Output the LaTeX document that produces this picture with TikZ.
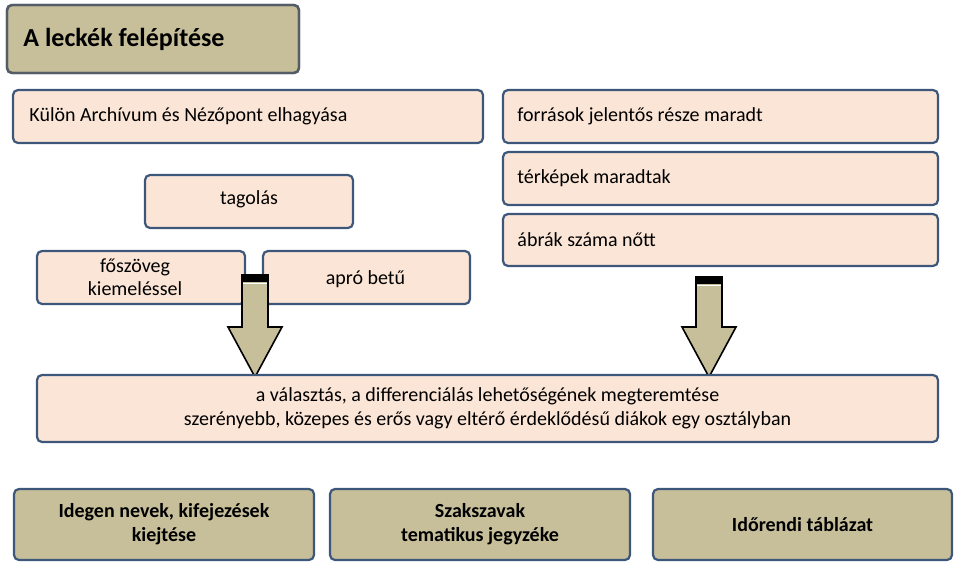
\documentclass[tikz,border=0pt]{standalone}
\usepackage{fontspec}
\setmainfont{Carlito}
\definecolor{peach}{RGB}{251,229,214}
\definecolor{tan}{RGB}{199,191,154}
\definecolor{edgeblue}{RGB}{61,87,122}
\definecolor{edgegray}{RGB}{85,92,100}
\tikzset{%
  pbox/.style={draw=edgeblue,line width=2.2pt,fill=peach,rounded corners=5pt,
    inner sep=0pt,font=\fontsize{20}{23}\selectfont,align=center},
  tbox/.style={draw=edgeblue,line width=2.2pt,fill=tan,rounded corners=5pt,
    inner sep=0pt,font=\fontsize{20}{23}\selectfont\bfseries,align=center},
  blockarrow/.style={draw=black,line width=1.6pt,fill=tan,line join=miter}
}
\newcommand\BoxAt[6][pbox]{% style, name, x1, y1, x2, y2
  \node[#1,minimum width=#5-#3,minimum height=#6-#4] (#2) at ({(#3+#5)/2},{-(#4+#6)/2}) {};}
\newcommand\DownArrow[3]{% centre x, top y, tip y
  \draw[blockarrow] (#1-13,-#2) -- (#1+13,-#2) -- (#1+13,-#3+50) -- (#1+27,-#3+50)
    -- (#1,-#3) -- (#1-27,-#3+50) -- (#1-13,-#3+50) -- cycle;
  \fill[black] (#1-13,-#2) rectangle (#1+13,-#2-7);
  \draw[white,line width=0.8pt] (#1-12,-#2-8) -- (#1+12,-#2-8);
}
\begin{document}
\begin{tikzpicture}[x=1pt,y=1pt]
\useasboundingbox (0,0) rectangle (960,-564);

%% title
\BoxAt[tbox]{title}{7}{5}{299}{73}
\path (title.west) node[anchor=west,xshift=14pt,font=\fontsize{26}{30}\selectfont\bfseries] {A leckék felépítése};
\draw[edgegray,line width=2.4pt,rounded corners=5pt] (7,-5) rectangle (299,-73);

%% upper boxes
\BoxAt{kulon}{13}{90}{483}{143}
\BoxAt{forras}{503}{90}{938}{143}
\BoxAt{terkep}{503}{152}{938}{205}
\BoxAt{abra}{503}{214}{938}{266}
\BoxAt{tagolas}{145}{175}{353}{228}
\BoxAt{foszoveg}{37}{251}{245}{304}
\BoxAt{apro}{263}{251}{470}{304}

\path (kulon.west) node[anchor=west,xshift=14pt,font=\fontsize{20}{23}\selectfont] {Külön Archívum és Nézőpont elhagyása};
\path (forras.west) node[anchor=west,xshift=12pt,font=\fontsize{20}{23}\selectfont] {források jelentős része maradt};
\path (terkep.west) node[anchor=west,xshift=12pt,font=\fontsize{20}{23}\selectfont] {térképek maradtak};
\path (abra.west) node[anchor=west,xshift=12pt,font=\fontsize{20}{23}\selectfont] {ábrák száma nőtt};
\path (tagolas) node[yshift=2pt,font=\fontsize{20}{23}\selectfont] {tagolás};
\path (foszoveg) node[xshift=-6pt,align=center,font=\fontsize{20}{23}\selectfont] {főszöveg\\kiemeléssel};
\path (apro) node[xshift=-1pt,yshift=-2pt,font=\fontsize{20}{23}\selectfont] {apró betű};

%% arrows
\DownArrow{255}{275}{377}
\DownArrow{709}{277}{377}

%% middle box
\BoxAt{choice}{37}{375}{938}{442}
\path (choice) node[align=center,font=\fontsize{20}{24}\selectfont] {a választás, a differenciálás lehetőségének megteremtése\\
  szerényebb, közepes és erős vagy eltérő érdeklődésű diákok egy osztályban};

%% bottom boxes
\BoxAt[tbox]{idegen}{14}{489}{314}{560}
\BoxAt[tbox]{szak}{330}{489}{630}{560}
\BoxAt[tbox]{idorend}{653}{489}{952}{560}
\path (idegen) node[align=center,font=\fontsize{20}{24}\selectfont\bfseries] {Idegen nevek, kifejezések\\kiejtése};
\path (szak) node[align=center,font=\fontsize{20}{24}\selectfont\bfseries] {Szakszavak\\tematikus jegyzéke};
\path (idorend) node[font=\fontsize{20}{24}\selectfont\bfseries] {Időrendi táblázat};

\end{tikzpicture}
\end{document}
